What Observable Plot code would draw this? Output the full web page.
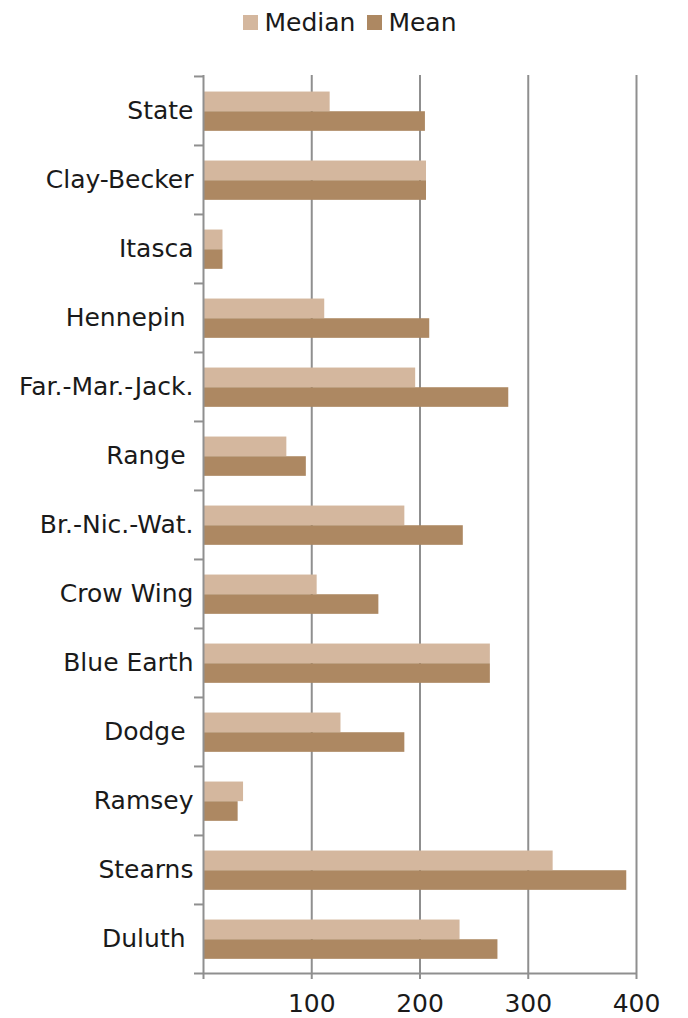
<!DOCTYPE html>
<html><head><meta charset="utf-8">
<script src="https://cdn.jsdelivr.net/npm/d3@7"></script>
<script src="https://cdn.jsdelivr.net/npm/@observablehq/plot@0.6"></script>
<style>
body{margin:0;background:#fff;font-family:"DejaVu Sans",sans-serif;color:#1a1a1a;}
#legend{height:45px;display:flex;justify-content:center;align-items:center;font-size:25px;padding-left:12px;box-sizing:border-box;width:688px;}
#legend .item{display:flex;align-items:center;margin:0 6px;}
#legend .sw{width:15px;height:15px;margin-right:6px;}
svg text{white-space:pre;}
</style></head><body>
<div id="legend"></div><div id="chart"></div>
<script>
const categories = ["State","Clay-Becker","Itasca","Hennepin ","Far.-Mar.-Jack.","Range ","Br.-Nic.-Wat.","Crow Wing","Blue Earth","Dodge ","Ramsey","Stearns","Duluth "];
const median = [117,206,18,112,196,77,186,105,265,127,37,323,237];
const mean   = [205,206,18,209,282,95,240,162,265,186,32,391,272];
const series = ["Median","Mean"];
const colors = ["#d4b79e","#ad8862"];
const xTicks = [100,200,300,400];

const legend = document.getElementById("legend");
series.forEach((s,i)=>{
  const it=document.createElement("div");it.className="item";
  const sw=document.createElement("div");sw.className="sw";sw.style.background=colors[i];
  const t=document.createElement("span");t.textContent=s;
  it.append(sw,t);legend.append(it);
});

const W=688,H=973,mt=30,mb=45,ml=203,mr=52;
const band=(H-mt-mb)/categories.length;
const data = categories.flatMap((c,i)=>[
  {cat:c,series:"Median",value:median[i]},
  {cat:c,series:"Mean",value:mean[i]}
]);
const grid = "#8f8f8f";
const chart = Plot.plot({
  width:W,height:H,marginTop:mt,marginBottom:mb,marginLeft:ml,marginRight:mr,
  style:{fontFamily:"DejaVu Sans, sans-serif",fontSize:"25px",color:"#1a1a1a",background:"#fff"},
  x:{domain:[0,400],ticks:xTicks,tickSize:0,tickPadding:21,label:null},
  y:{domain:categories,padding:0,tickSize:0,tickPadding:10,label:null},
  color:{domain:series,range:colors},
  marks:[
    Plot.ruleX(xTicks,{stroke:grid,strokeWidth:2,insetBottom:-6}),
    Plot.barX(data.filter(d=>d.series==="Median"),{x:"value",y:"cat",fill:"series",insetTop:band*0.225,insetBottom:band*0.49}),
    Plot.barX(data.filter(d=>d.series==="Mean"),{x:"value",y:"cat",fill:"series",insetTop:band*0.51,insetBottom:band*0.205}),
    Plot.ruleX([0],{stroke:grid,strokeWidth:2,insetBottom:-6}),
    Plot.ruleY(categories,{y:d=>d,x1:0,x2:0,insetLeft:-9,dy:-band/2,stroke:grid,strokeWidth:2}),
    Plot.ruleY(categories.slice(-1),{y:d=>d,x1:0,x2:400,insetLeft:-9,dy:band/2,stroke:grid,strokeWidth:2})
  ]
});
document.getElementById("chart").append(chart);
</script>
</body></html>
